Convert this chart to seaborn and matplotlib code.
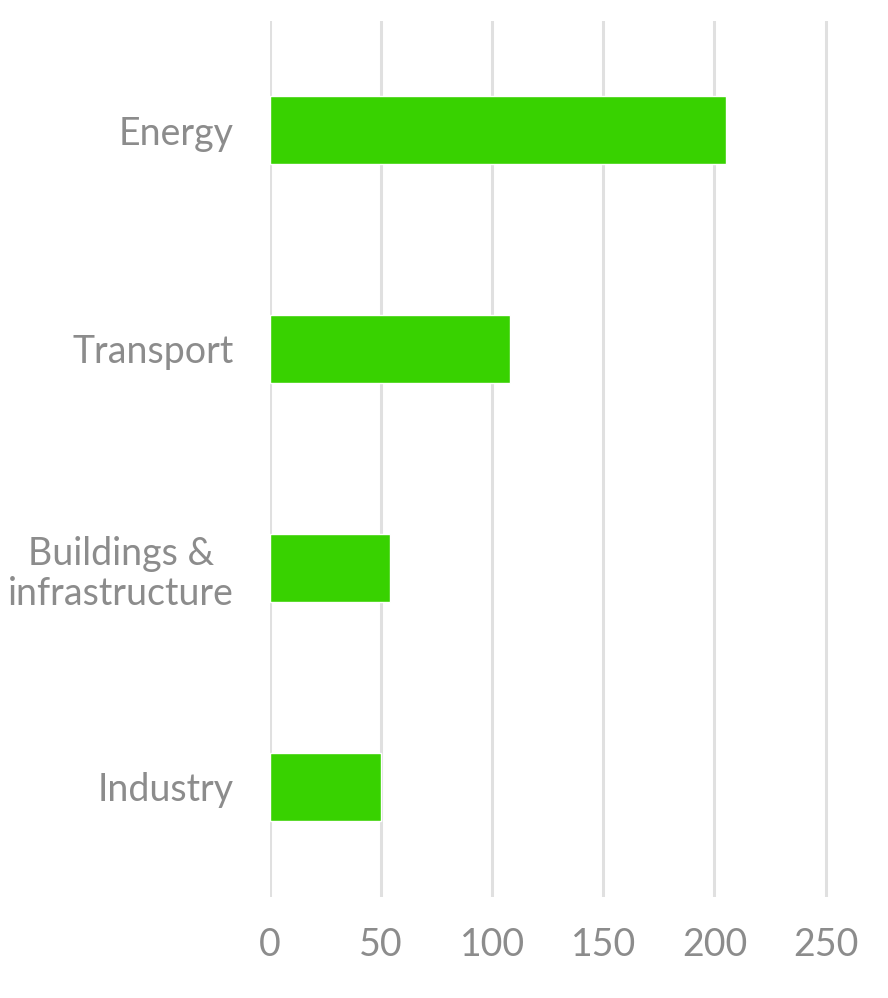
import numpy as np, pandas as pd
import seaborn as sns
import matplotlib.pyplot as plt

categories = ['Energy', 'Transport', 'Buildings &\ninfrastructure', 'Industry']
values = [205, 108, 54, 50]
xticks = [0, 50, 100, 150, 200, 250]

df = pd.DataFrame({'sector': categories, 'value': values})

sns.set_style('white')
plt.rcParams['font.family'] = ['Lato', 'DejaVu Sans']

fig = plt.figure(figsize=(8.88, 9.98), dpi=100)
ax = fig.add_axes([270 / 888, 1 - 896.5 / 998, 580 / 888, 876 / 998])

sns.barplot(data=df, x='value', y='sector', color='#38d200', saturation=1,
            width=0.31, ax=ax, zorder=3)

ax.set_xlim(0, 261)
ax.set_xticks(xticks)
ax.grid(axis='x', color='#e0e0e0', linewidth=2.2, zorder=0)
ax.grid(axis='y', visible=False)
for s in ax.spines.values():
    s.set_visible(False)
ax.set_xlabel('')
ax.set_ylabel('')
ax.tick_params(axis='x', length=0, pad=22, labelsize=27, labelcolor='#8c8c8c')
ax.tick_params(axis='y', length=0, pad=26, labelsize=27, labelcolor='#8c8c8c')
for t in ax.get_xticklabels():
    t.set_fontweight(400)
for t in ax.get_yticklabels():
    t.set_horizontalalignment('right')
    t.set_multialignment('center')
    t.set_linespacing(1.15)
    t.set_verticalalignment('center_baseline')

fig.savefig('out.png', dpi=100)
